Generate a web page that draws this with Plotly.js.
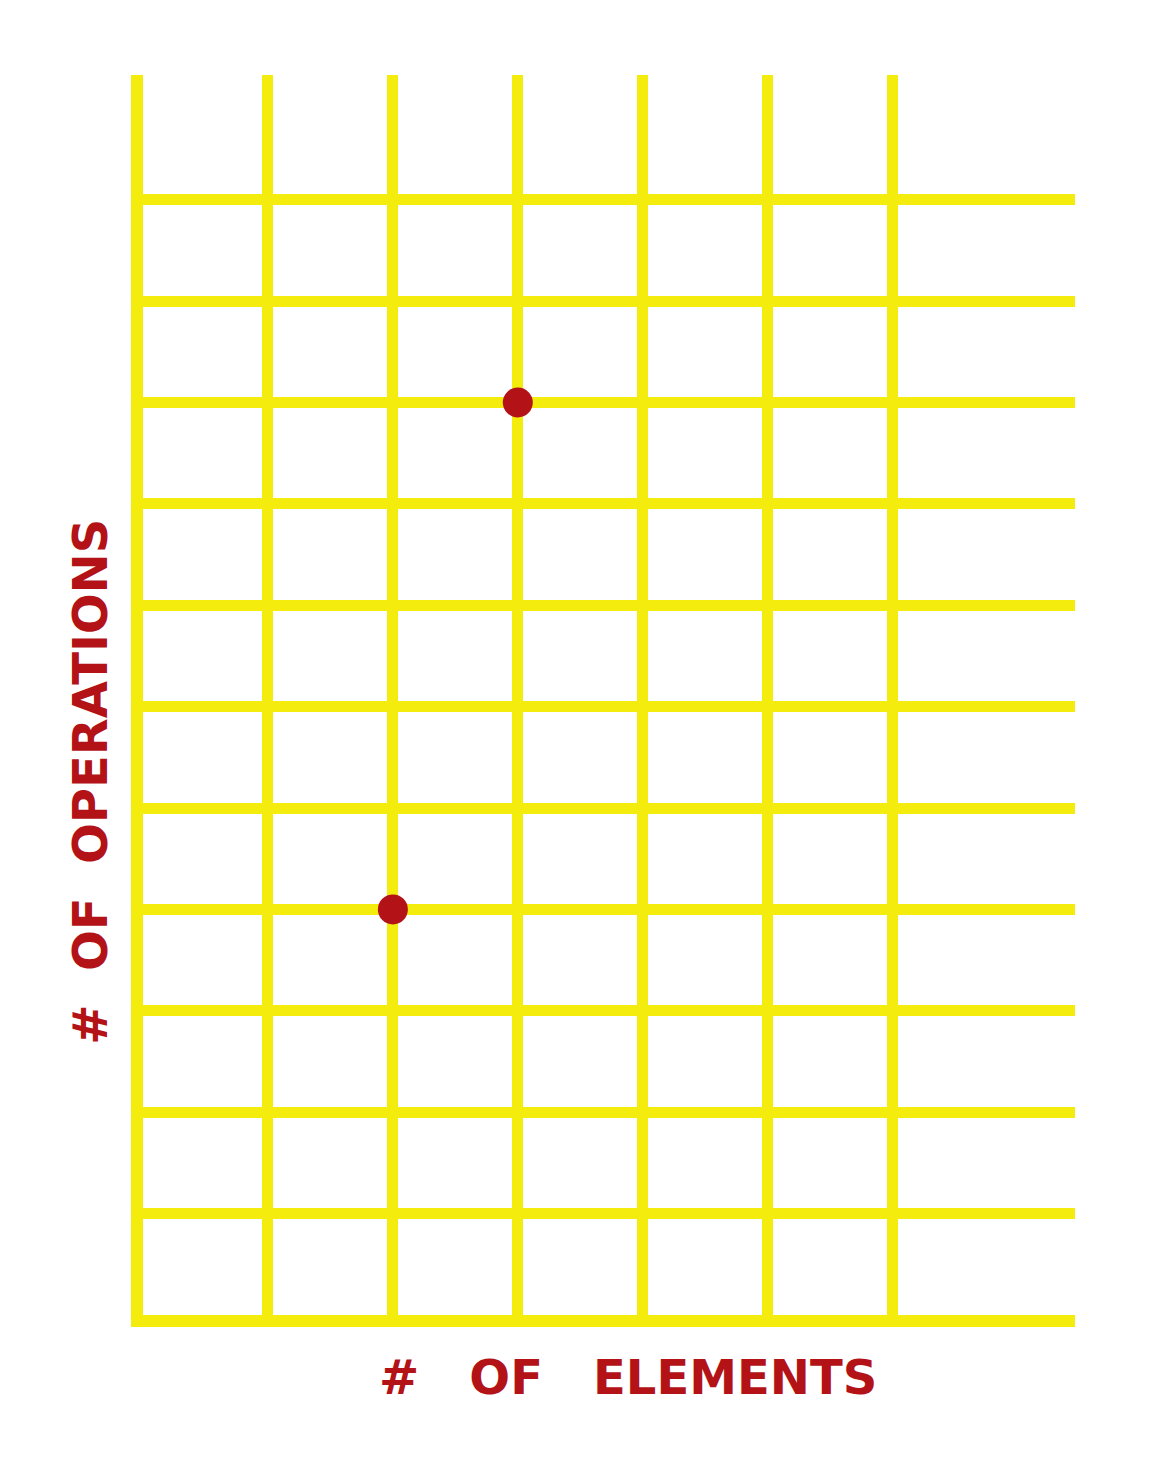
<!DOCTYPE html>
<html>
<head>
<meta charset="utf-8">
<script src="https://cdn.plot.ly/plotly-3.0.1.min.js"></script>
<style>html,body{margin:0;padding:0;background:#fff;}#chart{width:1170px;height:1472px;}</style>
</head>
<body>
<div id="chart"></div>
<script>
// Data
const elements = [2, 3];
const operations = [4, 9];
const xTicks = [0, 1, 2, 3, 4, 5, 6];
const yTicks = [0, 1, 2, 3, 4, 5, 6, 7, 8, 9, 10, 11];
const xTitle = "#   OF   ELEMENTS";
const yTitle = "#  OF  OPERATIONS";

const YELLOW = "#f4ec0c";
const RED = "#b31217";

const trace = {
  type: "scatter",
  mode: "markers",
  x: elements,
  y: operations,
  marker: {size: 30, color: RED},
  hoverinfo: "skip",
  cliponaxis: false
};

const axisBase = {
  showgrid: true,
  gridcolor: YELLOW,
  gridwidth: 11,
  zeroline: false,
  showline: true,
  linecolor: YELLOW,
  linewidth: 12,
  showticklabels: false,
  ticks: "",
  tickmode: "array",
  fixedrange: true
};

const layout = {
  width: 1170,
  height: 1472,
  margin: {l: 143, r: 95, t: 75, b: 157},
  paper_bgcolor: "#ffffff",
  plot_bgcolor: "#ffffff",
  showlegend: false,
  xaxis: Object.assign({}, axisBase, {range: [0, 7.46], tickvals: xTicks}),
  yaxis: Object.assign({}, axisBase, {range: [0, 12.23], tickvals: yTicks}),
  annotations: [
    {
      text: "<b>" + xTitle + "</b>",
      xref: "paper", yref: "paper",
      x: 0.52, y: -0.05,
      xanchor: "center", yanchor: "middle",
      showarrow: false,
      font: {family: "DejaVu Sans", size: 48, color: RED}
    },
    {
      text: "<b>" + yTitle + "</b>",
      xref: "paper", yref: "paper",
      x: -0.057, y: 0.43,
      xanchor: "center", yanchor: "middle",
      textangle: -90,
      showarrow: false,
      font: {family: "DejaVu Sans", size: 48, color: RED}
    }
  ]
};

Plotly.newPlot("chart", [trace], layout, {displayModeBar: false, staticPlot: true});
</script>
</body>
</html>
